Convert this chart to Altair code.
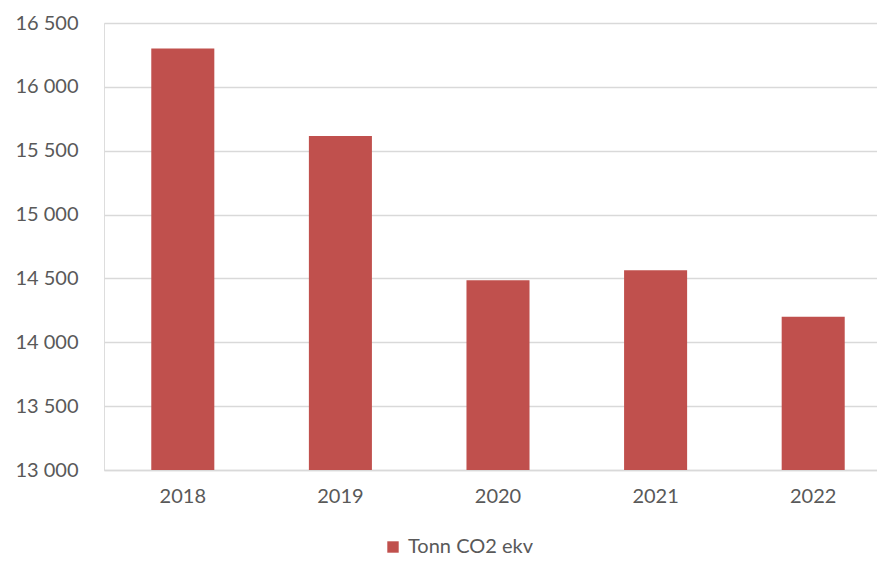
import altair as alt
import pandas as pd

years = ["2018", "2019", "2020", "2021", "2022"]
values = [16300, 15615, 14485, 14565, 14200]
series_name = "Tonn CO2 ekv"
y_min = 13000
y_max = 16500

df = pd.DataFrame({"year": years, "value": values, "series": [series_name] * len(years)})

FONT = "Lato"
GREY = "#595959"

chart = alt.Chart(df).mark_bar(color="#C0504D").encode(
    x=alt.X("year:N", title=None,
            scale=alt.Scale(paddingInner=0.6, paddingOuter=0.3, range=[0, 788]),
            axis=alt.Axis(labelAngle=0, ticks=False, domainColor="#d9d9d9", domainWidth=1.5,
                          labelFont=FONT, labelFontSize=20, labelColor=GREY, labelPadding=16)),
    y=alt.Y("value:Q", title=None,
            scale=alt.Scale(domain=[y_min, y_max], nice=False, zero=False),
            axis=alt.Axis(values=[13000, 13500, 14000, 14500, 15000, 15500, 16000, 16500],
                          labelExpr="replace(format(datum.value, ','), ',', ' ')",
                          ticks=False, domain=False, gridColor="#d9d9d9", gridWidth=1.5,
                          labelFont=FONT, labelFontSize=20, labelColor=GREY, labelPadding=26)),
    y2=alt.datum(y_min),
    color=alt.Color("series:N", scale=alt.Scale(range=["#C0504D"]),
                    legend=alt.Legend(title=None, orient="none", legendX=279, legendY=514,
                                      symbolType="square", symbolSize=130, symbolStrokeWidth=0,
                                      labelFont=FONT, labelFontSize=20, labelColor=GREY,
                                      padding=0, labelOffset=5)),
).properties(
    width=773,
    height=447,
    autosize=alt.AutoSizeParams(type="none"),
    padding={"left": 96, "top": 15, "right": 0, "bottom": 86},
).configure_view(stroke=None).configure(background="white")

chart.save("out.html", embed_options={"renderer": "svg", "actions": False})
